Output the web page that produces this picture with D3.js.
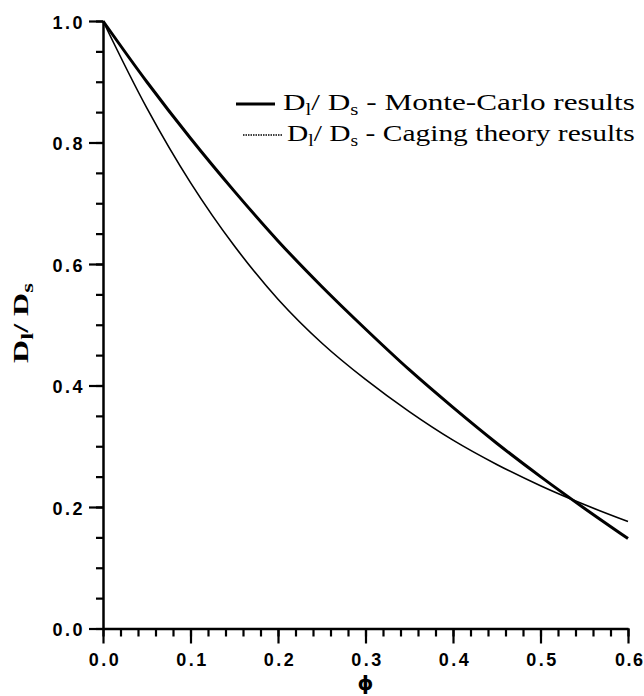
<!DOCTYPE html>
<html>
<head>
<meta charset="utf-8">
<script src="https://cdn.jsdelivr.net/npm/d3@7"></script>
<style>
  body { margin: 0; background: #fff; }
  .tick text { font-family: 'Liberation Sans', Arial, sans-serif; font-weight: bold; font-size: 18px; letter-spacing: 2.5px; fill: #000; }
  .serif { font-family: 'Liberation Serif', 'Times New Roman', serif; fill: #000; }
</style>
</head>
<body>
<div id="chart"></div>
<script>
// values
const phi = [0, 0.05, 0.1, 0.15, 0.2, 0.25, 0.3, 0.35, 0.4, 0.45, 0.5, 0.55, 0.6]
const monteCarlo = [1.0, 0.9, 0.807, 0.72, 0.638, 0.563, 0.493, 0.426, 0.364, 0.305, 0.25, 0.198, 0.148]
const caging = [1.0, 0.857, 0.734, 0.63, 0.542, 0.47, 0.41, 0.357, 0.31, 0.27, 0.235, 0.204, 0.176]

const xTicks = [0, 0.1, 0.2, 0.3, 0.4, 0.5, 0.6]
const xMinor = d3.range(0, 31).map((i) => i * 0.02)
const yTicks = [0, 0.2, 0.4, 0.6, 0.8, 1.0]
const yMinor = d3.range(0, 21).map((i) => i * 0.05)

const legendLabels = ['Monte-Carlo results', 'Caging theory results']

const width = 644
const height = 696

const x = d3.scaleLinear().domain([0, 0.6]).range([103, 628])
const y = d3.scaleLinear().domain([0, 1]).range([628.5, 21])

const svg = d3
  .select('#chart')
  .append('svg')
  .attr('width', width)
  .attr('height', height)

// minor ticks first, then major axes over them
svg
  .append('g')
  .attr('transform', `translate(0,${y(0)})`)
  .call(d3.axisBottom(x).tickValues(xMinor).tickSize(8).tickFormat(''))
  .call((g) => g.select('.domain').remove())
svg
  .append('g')
  .attr('transform', `translate(${x(0)},0)`)
  .call(d3.axisLeft(y).tickValues(yMinor).tickSize(7).tickFormat(''))
  .call((g) => g.select('.domain').remove())

const xAxis = svg
  .append('g')
  .attr('transform', `translate(0,${y(0)})`)
  .call(
    d3.axisBottom(x).tickValues(xTicks).tickSize(15).tickSizeOuter(0).tickPadding(10).tickFormat(d3.format('.1f'))
  )
xAxis.selectAll('text').attr('dx', '1.5px')
// last label sits against the right edge, as in the original
xAxis
  .selectAll('text')
  .filter((d) => d === 0.6)
  .attr('text-anchor', 'end')
  .attr('dx', '16px')
  .style('letter-spacing', '1.5px')

const yAxis = svg
  .append('g')
  .attr('transform', `translate(${x(0)},0)`)
  .call(
    d3.axisLeft(y).tickValues(yTicks).tickSize(14).tickSizeOuter(0).tickPadding(4).tickFormat(d3.format('.1f'))
  )
yAxis.selectAll('text').attr('dy', '0.4em')

svg.selectAll('.domain').attr('stroke', '#000').attr('stroke-width', 2.5)
svg.selectAll('.tick line').attr('stroke', '#000').attr('stroke-width', 2.2)

// curves
const line = d3
  .line()
  .x((d) => x(d[0]))
  .y((d) => y(d[1]))
  .curve(d3.curveCatmullRom)

svg
  .append('path')
  .attr('d', line(d3.zip(phi, caging)))
  .attr('fill', 'none')
  .attr('stroke', '#000')
  .attr('stroke-width', 1.6)

svg
  .append('path')
  .attr('d', line(d3.zip(phi, monteCarlo)))
  .attr('fill', 'none')
  .attr('stroke', '#000')
  .attr('stroke-width', 3)

// ratio label with subscripts: D_l / D_s
function ratio(sel, subSize, shift) {
  sel.append('tspan').text('D')
  sel.append('tspan').attr('font-size', subSize).attr('dy', shift).text('l')
  sel.append('tspan').attr('dy', -shift).text('/ D')
  sel.append('tspan').attr('font-size', subSize).attr('dy', shift).text('s')
  return sel
}

// stretch a text along its run so it spans the given length
function fit(t, len) {
  const w = t.node().getComputedTextLength()
  t.attr('transform', `scale(${len / w},1)`)
}

// legend
const rows = [
  { y: 104, label: legendLabels[0], w: 3, dash: null, x0: 236, x1: 275, tx: 283, len: 352 },
  { y: 135, label: legendLabels[1], w: 1.4, dash: '1.5,1', x0: 243, x1: 283, tx: 287, len: 348 }
]
rows.forEach((r) => {
  svg
    .append('line')
    .attr('x1', r.x0)
    .attr('x2', r.x1)
    .attr('y1', r.y)
    .attr('y2', r.y)
    .attr('stroke', '#000')
    .attr('stroke-width', r.w)
    .attr('stroke-dasharray', r.dash)
  const g = svg.append('g').attr('transform', `translate(${r.tx},${r.y + 6})`)
  const t = g.append('text').attr('class', 'serif').attr('font-size', 24)
  ratio(t, 16, 5)
  t.append('tspan').attr('dy', -5).text(' - ' + r.label)
  fit(t, r.len)
})

// axis titles
svg
  .append('text')
  .attr('x', x(0.3))
  .attr('y', 690)
  .attr('text-anchor', 'middle')
  .attr('font-family', "'DejaVu Sans', sans-serif")
  .attr('font-weight', 'bold')
  .attr('font-size', 20)
  .text('ϕ')

const yg = svg.append('g').attr('transform', 'translate(28,363) rotate(-90)')
const yt = yg.append('text').attr('class', 'serif').attr('font-size', 22).attr('font-weight', 'bold')
ratio(yt, 17, 5)
fit(yt, 80)
</script>
</body>
</html>
